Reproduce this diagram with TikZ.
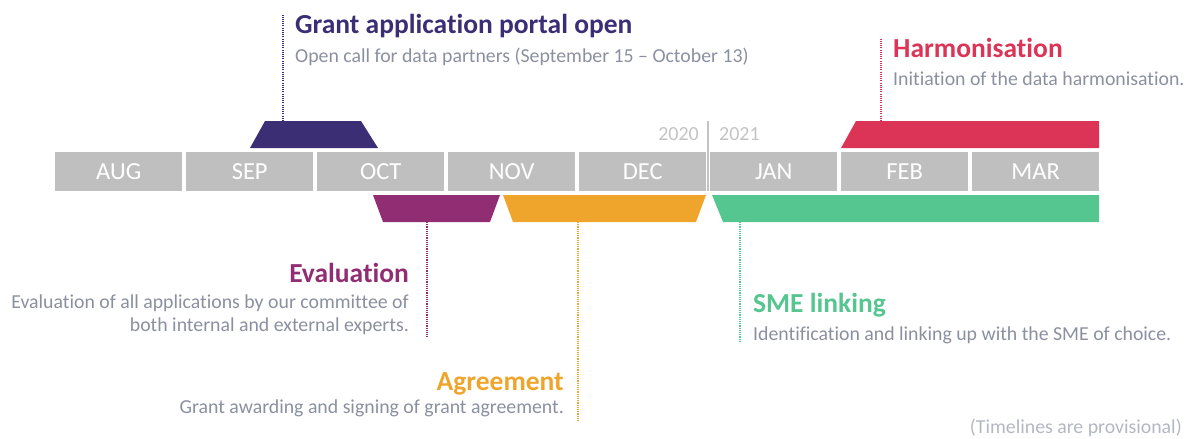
\documentclass[tikz,border=0pt]{standalone}
\usepackage{fontspec}
\setmainfont[Ligatures=NoCommon]{Carlito}
\definecolor{boxgray}{HTML}{BFBFBF}
\definecolor{yeargray}{HTML}{C3C3C3}
\definecolor{cgrant}{HTML}{3B2E74}
\definecolor{ceval}{HTML}{912D73}
\definecolor{cagree}{HTML}{EFA52B}
\definecolor{csme}{HTML}{56C690}
\definecolor{charm}{HTML}{DC3456}
\definecolor{descgray}{HTML}{8A90A0}
\definecolor{notegray}{HTML}{B3B7C2}
\begin{document}
\begin{tikzpicture}[x=1pt,y=-1pt,
  month/.style={fill=boxgray, text=white, minimum width=127pt, minimum height=39pt, inner sep=0pt, anchor=north west, font=\fontsize{24.5}{24.5}\selectfont},
  yearlbl/.style={text=yeargray, inner sep=0pt, font=\fontsize{20}{20}\selectfont},
  ttl/.style={inner sep=0pt, font=\bfseries\fontsize{27.5}{27.5}\selectfont},
  desc/.style={inner sep=0pt, text=descgray, font=\fontsize{19.8}{19.8}\selectfont},
  leader/.style={line width=1.6pt, dash pattern=on 1.1pt off 1.1pt}]
\useasboundingbox (0,0) rectangle (1187,439);
% months
\foreach \m [count=\i from 0] in {AUG,SEP,OCT,NOV,DEC,JAN,FEB,MAR}
  \node[month] (m\i) at ({55+131*\i},152) {\m};
% year divider
\coordinate (ytop) at (708,121);
\coordinate (ybot) at (708,191);
\draw[yeargray, line width=2pt] (ytop) -- (ybot);
\node[yearlbl, anchor=base east] (y2020) at (699,140) {2020};
\node[yearlbl, anchor=base west] (y2021) at (719,140) {2021};
% bars
\fill[cgrant] (250,148) -- (265,121) -- (361,121) -- (378,148) -- cycle;
\fill[charm] (841,148) -- (856,121) -- (1099,121) -- (1099,148) -- cycle;
\fill[ceval] (373,195) -- (500,195) -- (490,222) -- (383,222) -- cycle;
\fill[cagree] (503,195) -- (706,195) -- (696,222) -- (513,222) -- cycle;
\fill[csme] (712,195) -- (1099,195) -- (1099,222) -- (723,222) -- cycle;
% anchor coordinates
\coordinate (grantbar) at (283,121);
\coordinate (granttop) at (283,15);
\coordinate (harmbar) at (881,121);
\coordinate (harmtop) at (881,38);
\coordinate (evalbar) at (427,222);
\coordinate (evalend) at (427,337);
\coordinate (agreebar) at (578,222);
\coordinate (agreeend) at (578,422);
\coordinate (smebar) at (740,222);
\coordinate (smeend) at (740,343);
\draw[leader, cgrant] (grantbar) -- (granttop);
\draw[leader, charm] (harmbar) -- (harmtop);
\draw[leader, ceval] (evalbar) -- (evalend);
\draw[leader, cagree] (agreebar) -- (agreeend);
\draw[leader, csme] (smebar) -- (smeend);
% texts
\node[ttl, text=cgrant, anchor=base west] (granttitle) at (295,33) {Grant application portal open};
\node[desc, anchor=base west] (grantdesc) at (295,62) {Open call for data partners (September 15 – October 13)};
\node[ttl, text=charm, anchor=base west] (harmtitle) at (893,57) {Harmonisation};
\node[desc, anchor=base west] (harmdesc) at (893,85) {Initiation of the data harmonisation.};
\node[ttl, text=ceval, anchor=base east] (evaltitle) at (409,282) {Evaluation};
\node[desc, anchor=base east] (evaldesc1) at (409,308) {Evaluation of all applications by our committee of};
\node[desc, anchor=base east] (evaldesc2) at (409,331) {both internal and external experts.};
\node[ttl, text=cagree, anchor=base east] (agreetitle) at (564,390) {Agreement};
\node[desc, anchor=base east] (agreedesc) at (564,413) {Grant awarding and signing of grant agreement.};
\node[ttl, text=csme, anchor=base west] (smetitle) at (753,312) {SME linking};
\node[desc, anchor=base west] (smedesc) at (753,340) {Identification and linking up with the SME of choice.};
\node[desc, text=notegray, anchor=base east] (note) at (1182,433) {(Timelines are provisional)};
\end{tikzpicture}
\end{document}
